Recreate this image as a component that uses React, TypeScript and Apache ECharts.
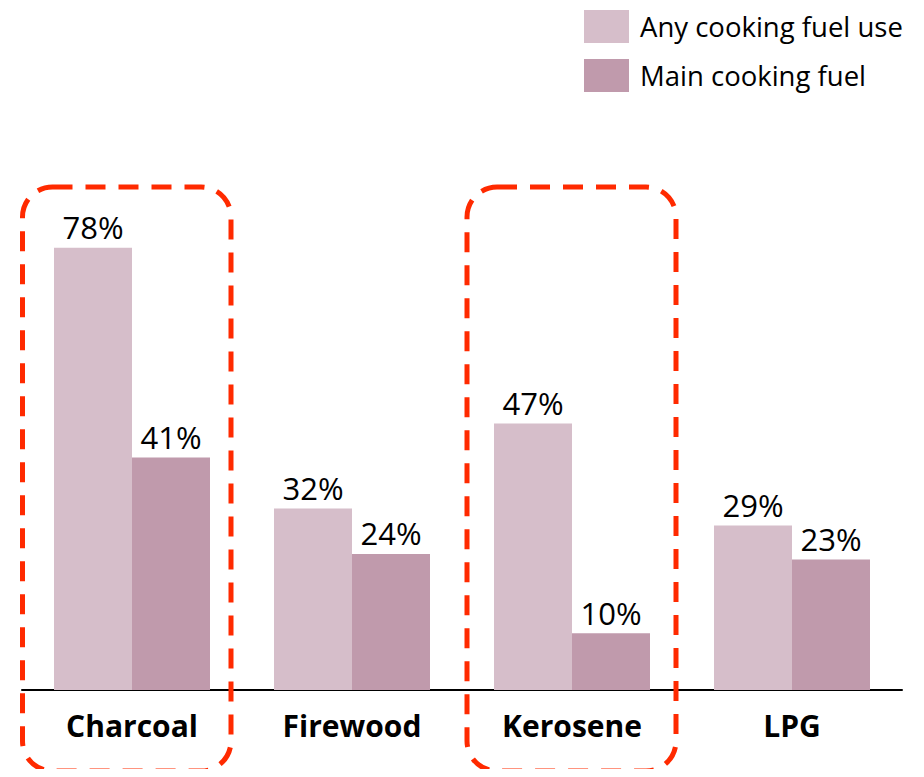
import React, { useEffect, useRef } from "react";
import * as echarts from "echarts";

const categories = ["Charcoal", "Firewood", "Kerosene", "LPG"];
const anyUse = [78, 32, 47, 29];
const mainFuel = [41, 24, 10, 23];
const seriesNames = ["Any cooking fuel use", "Main cooking fuel"];
const colors = ["#D6BECA", "#C09AAC"];

export default function App() {
  const ref = useRef<HTMLDivElement>(null);
  useEffect(() => {
    const chart = echarts.init(ref.current!, null, { renderer: "svg" });
    const font = "'Open Sans', 'Liberation Sans', sans-serif";
    const label = {
      show: true,
      position: "top",
      distance: 5,
      formatter: "{c}%",
      fontSize: 31,
      fontFamily: font,
      color: "#000",
    };
    const boxStyle = {
      fill: "none",
      stroke: "#FF2A00",
      lineWidth: 5,
      lineDash: [20, 13],
    };
    chart.setOption({
      animation: false,
      grid: { left: 22, right: 22, top: 123, bottom: 87 },
      legend: {
        orient: "vertical",
        left: 584,
        top: 10,
        padding: 0,
        itemWidth: 45,
        itemHeight: 33,
        itemGap: 16,
        icon: "rect",
        textStyle: { fontSize: 27.5, fontFamily: font, color: "#000", padding: [2, 0, 0, 6] },
        data: seriesNames,
      },
      xAxis: {
        type: "category",
        data: categories,
        axisLine: { lineStyle: { color: "#000", width: 2 } },
        axisTick: { show: false },
        axisLabel: {
          fontSize: 30,
          fontWeight: "bold",
          fontFamily: font,
          color: "#000",
          margin: 20,
        },
      },
      yAxis: { type: "value", min: 0, max: 100, show: false, splitLine: { show: false } },
      series: [
        {
          name: seriesNames[0],
          type: "bar",
          data: anyUse,
          barWidth: 78,
          barGap: "0%",
          itemStyle: { color: colors[0] },
          label,
        },
        {
          name: seriesNames[1],
          type: "bar",
          data: mainFuel,
          barWidth: 78,
          barGap: "0%",
          itemStyle: { color: colors[1] },
          label,
        },
      ],
      graphic: [
        {
          type: "rect",
          shape: { x: 22.5, y: 187, width: 208.5, height: 584, r: 30 },
          style: boxStyle,
          z: 100,
        },
        {
          type: "rect",
          shape: { x: 467, y: 187, width: 209, height: 584, r: 30 },
          style: boxStyle,
          z: 100,
        },
      ],
    });
    return () => chart.dispose();
  }, []);
  return <div ref={ref} style={{ width: 924, height: 777, margin: -8 }} />;
}
